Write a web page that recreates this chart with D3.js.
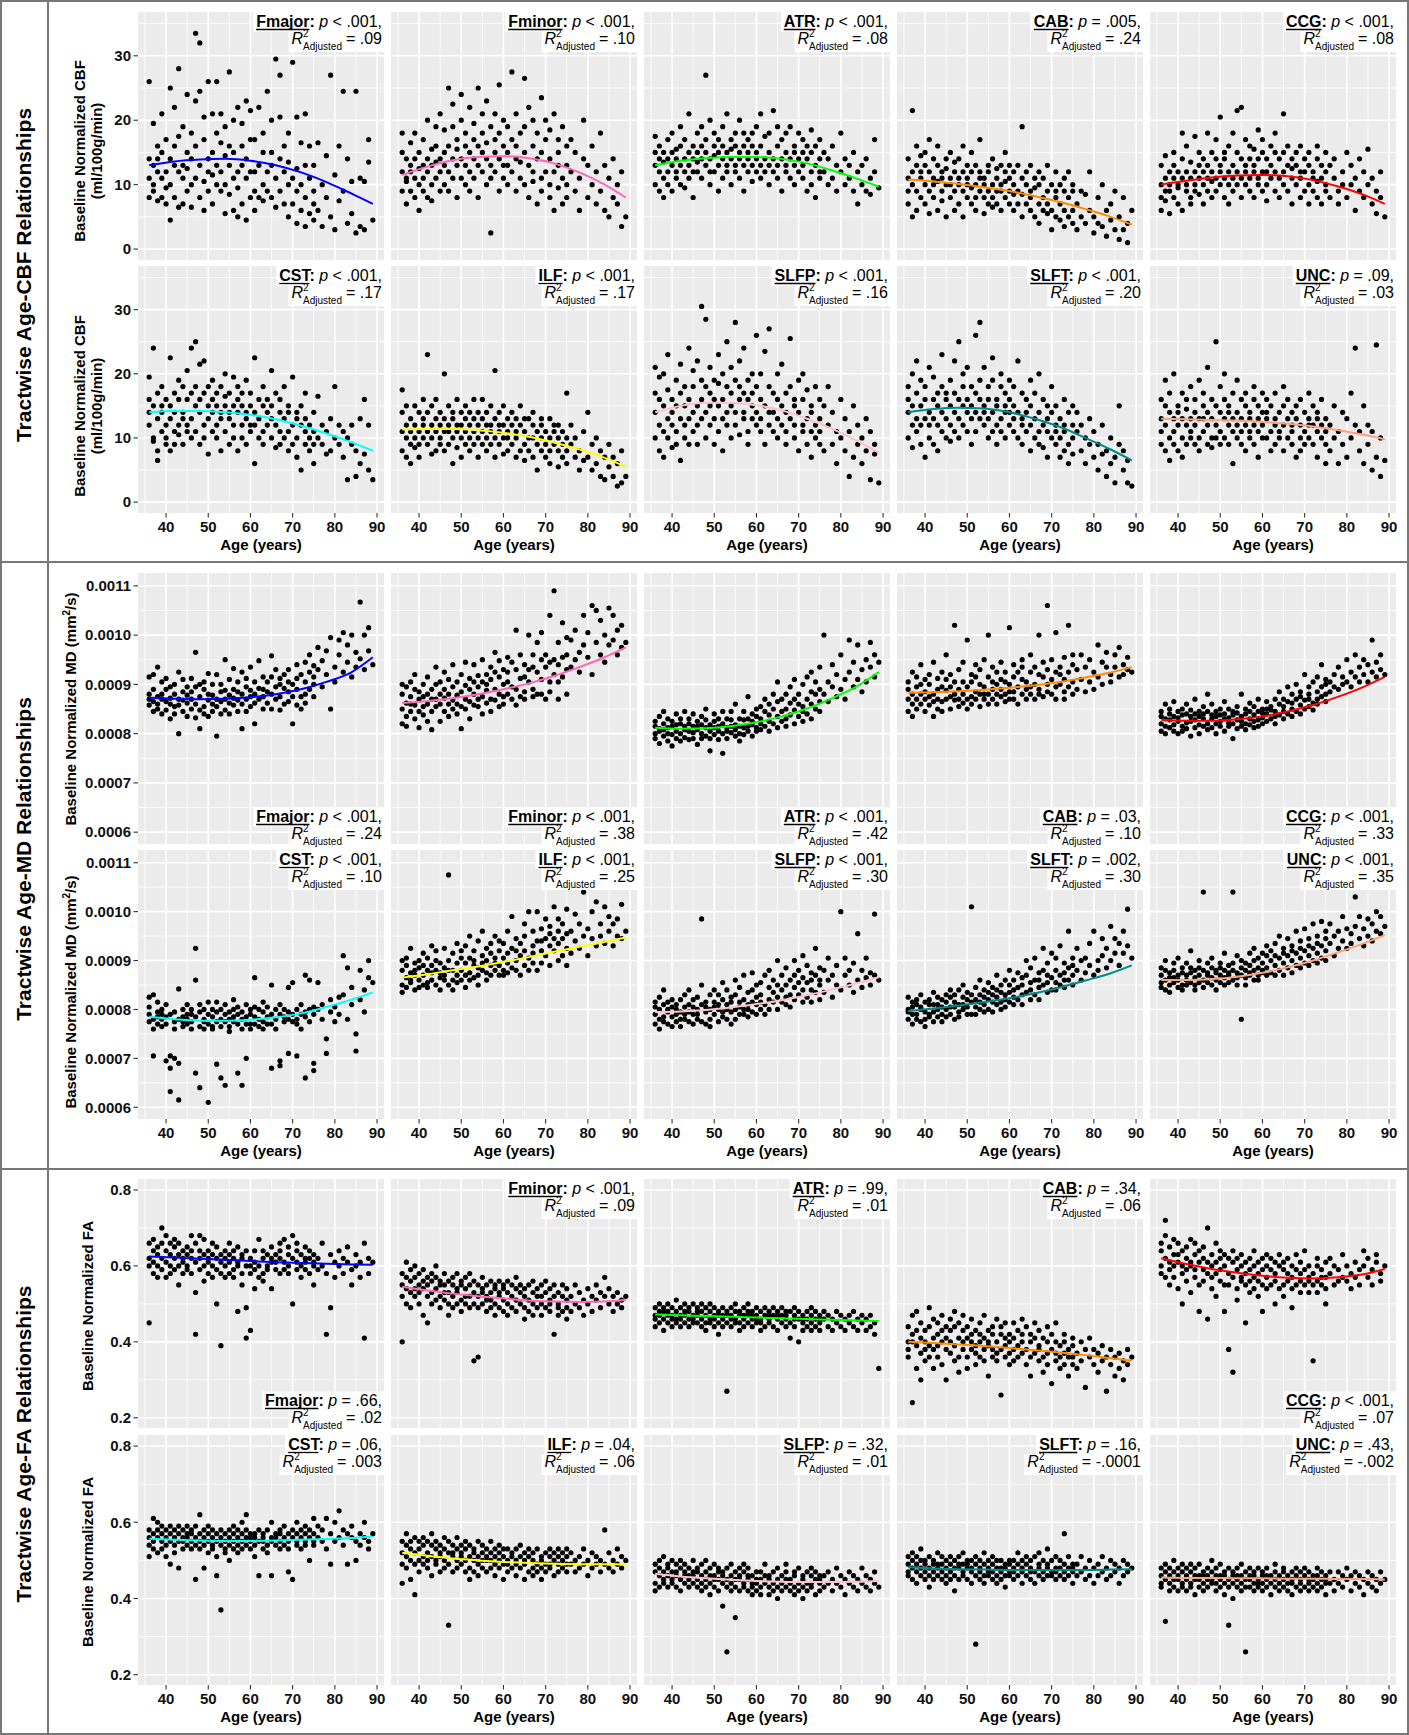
<!DOCTYPE html>
<html><head><meta charset="utf-8">
<script src="https://cdn.jsdelivr.net/npm/d3@7"></script>
<style>body{margin:0;background:#fff}svg{display:block}text{font-family:"Liberation Sans",Arial,Helvetica,sans-serif}</style>
</head><body><svg id="c" width="1409" height="1735"></svg>
<script>
// ---------- DATA ----------
const ages = [36,36,36,36,37,37,37,37,38,38,38,38,39,39,39,39,40,40,40,40,41,41,41,41,42,42,42,42,43,43,43,43,44,44,44,44,45,45,45,45,
46,46,46,46,47,47,47,47,48,48,48,48,49,49,49,49,50,50,50,50,51,51,51,51,52,52,52,52,53,53,53,53,54,54,54,54,55,55,55,55,56,56,56,56,57,57,57,57,58,58,58,58,59,59,59,59,60,60,60,60,
61,61,61,61,62,62,62,63,63,63,63,64,64,64,65,65,65,65,66,66,66,67,67,67,67,68,68,68,69,69,69,69,70,70,70,71,71,71,71,72,72,72,73,73,73,73,74,74,74,75,75,75,75,
76,76,77,77,78,78,79,79,80,80,81,81,82,82,83,83,84,84,85,85,86,86,87,87,88,88,89];

const tracts = ["Fmajor","Fminor","ATR","CAB","CCG","CST","ILF","SLFP","SLFT","UNC"];
const curveColors = ["#0000FF","#FF69B4","#00FF00","#FF8C00","#FF0000","#00FFFF","#FFFF00","#FFC0CB","#008B8B","#FFA07A"];
const xTicks = [40,50,60,70,80,90];
const xMinor = [35,45,55,65,75,85];

// CBF (ml/100g/min)
const cbf_Fmajor=[26,11,8,14,19.5,13,9,10,16,7.5,12,14,21,8,15,11,7,12,17,9.5,25,4.5,14,10,13,22,8,16,28,12,6.5,17.5,11,19,13,7,15,9,24,12.5,
18,10,14,6.5,33.5,16,11,23,32,13,8,24.5,17,10.5,20.5,6,26,14,9,12,7,15,21,11.5,26,18,10,13,12,16.5,9,21,14.5,5.5,19,10,27.5,13,8.5,16,11,20,6,15,22,12,5,9.5,13,19.5,7,16,23,11,14,4.5,12,17,8,21.5,
17,9,12,6,22,13,8,10,15,7.5,18,24.5,12,9,20,8,13,15,29.5,11,6.5,14,27,9,20.5,12,7,16,10,13.5,5,18,29,11,7,20.5,9,12.5,4,6,16.5,10,21,3.5,8,13,11,5.5,16,9,13,4.5,7,
16.5,6,10,3.5,8,14.5,27,5,11.5,3,16,7.5,24.5,9,14,4,10.5,5.5,24.5,2.5,11,3.5,10.5,3,17,13.5,4.5];
const cbf_Fminor=[9,12,15,18,11,7,14,10.5,13,16.5,9,12,8,14,11,18,10,12.5,6,15,17,9,13,11,14,20,8,12,10,15.5,13,7.5,16,11,19,13.5,12,21,9,14,
15,10,18.5,13,25,12,16,9,14,19,11,22.5,13,17,8,15.5,20,11,14,24,10,16,13,18,22,12,15,9,14,19.5,11,17,25,13,8,16,12,18,15,21,10,14,23,16.5,2.5,13,19,11,17,21,12,15,9,14,18,25.5,13,16,11,20,
15,10,19,13,27.5,12,17,14,9,21,16,11,18,13.5,26.5,15,10,19,13,22,8,16,12,20,10.5,14,18,7,11,23.5,15,9,17,12,20,14,10,8,18.5,21,12,6,15,9.5,13,17,11,19,7,13,8,16,10,
12,17,9,15,11,6,14,20,8,13,10,16,7,12,18,9,6,13,11,5,14,8,7,10,3.5,12,5];
const cbf_ATR=[13,10,15,17.5,12,14,9,16,11,13.5,15,8,14,17,12,10,18,13,9,15,12,15.5,14,11,16,10,13,19,14,12,17,9.5,21,13,15,11,12,16,14,8,
15,18,12,13.5,14,11,19,16,27,13,15,17,12,20,14,10,16,14.5,18,12,13,17,9,15,19,14,11,16,15,21,13,12,17,14,10,15.5,13,18,16,12,20,14,15,11,16,13,18,9,14,17,12,15,18,13,16,10.5,15,12,19,14,
13,16,11,21,14,17.5,12,15,10,18,13,21.5,14,12,16,13,19,11,14,17,9,12,15,18,13,19,11,14,16,13,10,15,18,12,14,11,15,13,17,14,9,16,12,18.5,15,10,13,16,8,14,11,17,12,
12,15,10,14,16,11,13,9,18,12,10,14,11,13,15,9,12,7,10,13,14,9,11,8.5,17,12,9.5];
const cbf_CAB=[11,7,14,9,21.5,12,5,10,9,13,16,6,11,8,14.5,12,15,10,7,13,9,12,17,5.5,11,8,14,10,13,6,10.5,16,9,12,7.5,11,14,10,5,12.5,
8,11,15,10,12,9,6,13.5,10,14,7,11,16,9,12,5,11,8,13,10,7,12,9.5,15,10,6,13,8,12,9,17,11,8,11,5.5,10,13,9,7,12,10,14,8,6.5,11,7,12.5,9,9,13,10,6,12,8,10.5,15,7,11,9,13,
10,6,12,8.5,9,13,7,11,5,8.5,19,10,7,12,6,9,13,8,11,5,9.5,7,10,4,12,8,11,6,9,5.5,13,7,10,6,3,12,8,5,9,7,10,4.5,9,6,11,3.5,8,5,12,6,9,4,10,
7,3,9,5,4,8.5,12,6,5,2.5,8,4,10,3.5,6,2,7,4.5,3,9,5,1.5,8,3,4,1,6];
const cbf_CCG=[10,8,13,6,11,9,14.5,7.5,12,5.5,10,9,8,13,11,15,10,7,12,9.5,14,11,6,18,9,12,10,16,11,8,13.5,7,17.5,10,12,9,13,11,8.5,15,
10,14,7,12,18,11,9,13,12,8,15,10.5,14,11,17,9,10,13,20.5,12,8,15,11,14,16,10,12,7,13,9,18,11,12,15,21.5,10,22,11,14,8,13,17,10,12,9,14,11,16,12,15.5,8,13,11,18.5,14,10,15,9,12,17,
10,14,12,7.5,13,11,16,9,15,12,18,11,14,8,21,12,10,15,13,9,16,11,14,7,12.5,15,10,13,8,12,16,11,14,9,12,10,13,7,15,12,9,11,14,8,10.5,16,11,13,7,9,12,15,10,
13,8,11,14,9,7,12,10,15,8,10,13,6,11,9,14,12,8,10,15.5,7,11,9,5.5,12,8,5];
const cbf_CST=[19.5,14,12,16,24,10,15,9.5,8,13,17,6.5,15,11,18,14,12,16,9,10,22.5,13,8,15,17,11,14,9,19,12,16,10.5,14,18,9,13,16,11,20.5,12,
24,13,17,10,25,15,11,18,14,21.5,9,16,22,12,17,10,13,7.5,15,18,16,11,14,19,10,15,12,17,14,18,8,13,20,11,15,16.5,13,9,17,14,19.5,12,15,10,16,8,14,18,12,17,10,15,14,19,9,13,17,11,15,12,
22.5,14,6,12,13,16,10,11,15,18,9,14,12,16,20.5,10,13,15,12,17,8.5,14,11,16,9,13,18,10,8,15,11,14,19.5,12,9,10,14,7,13,5,12,15,11,9,13,17,8,12,10,14,9,6,11,
16.5,10,9,12,11,7.5,13,8,18,10,9,12,7,11,3.5,10,9,12,4,8,13,6,16,7.5,12,5,3.5];
const cbf_ILF=[11,8,14,17.5,10,12,7,15,13,9,11,6,15,10,12,8.5,11,14,7,9,12,16,10,13,23,9,11,14,10,12,7.5,15,13,8,11,16,9,12,14,10,
20,11,8,13,12,15,9,11,10,13,6,14,11,8.5,16,12,14,10,12,7,9,13,11,15,12,8,14,10,16,11,9,13,10,12,14,7,13,9,11,16,8,12,10,14,11,15,9,12,13,7,10,20.5,9,12,14,11,12,10,7.5,15,
11,13,8,10,9,12,14,10,7,13,11,12,8,15,9,11,6.5,13,10,13,8,12,7,10,14,9,11,5,10,13,8,12,7,11,9,13,6,10,8,11,9,12,8,10,5.5,12,9,7,11,17,8,10,6,
9,12,7,10,8,5,11,6.5,14,7,9,5,6,10,8,4,7,3.5,9,5.5,4,7,6,2.5,8,3,4];
const cbf_SLFP=[14,21,10,17,8,16,12,19.5,15,11,20,7,13,17.5,10,23,16,12,8.5,14,19,11,15,9,21.5,13,17,6.5,12,15,10,18,16,24,13,9,11,18,14,20.5,
15,22,12,9,30.5,16,13,19,28.5,14,18,10,17,12,21,15,13,19,9,16,23,15,11,18.5,16,20,13,8,14,18,25,12,17,10,21,15,28,14,19,12,16,22,10.5,18,13,17,14,24,19,11,16,9,15,20,13,17,12,18,26,14,
16,11,20,13,23.5,15,9,14,18,12,27,17,11,14,13,20,16,10,21.5,15,12,14,9,17,11,25.5,13,18,12,16,10,15,19,14,8,16,12,20,11,13,17.5,9,11,15,7,14,18,12,10,13,9,16,11,
15,8,12,18,9,14,11,6,16,10,8,13,11,4,7,15,12,9,6,10,13,8,3.5,11,9,7.5,3];
const cbf_SLFT=[14,18,10,16,20,12,15,8.5,11,17,13,22,15,9,19,12,13,16,7,18,21,12,14,10,16,13,9,19.5,12,17,15,8,18,11,14,23,13,16,10,17,
19,12,15,9.5,14,22,11,17,16,13,25,10,20,15,12,18,11,16,14,21,15,9,18,13,26,14,17,11,28,13,16,19,15,21,12,14,18,10,16,13,14,19,11,22.5,16,12,15,9,13,18,20,11,17,14,10,15,12,19,16,14,
15,11,18,13,22,14,10,13,17,12,9,16,11,14,19,12,15,8,13,17,10,14,20,11,9,16,12,8.5,11,15,13,7,18,10,14,12,9,15,11,13,7,10,16,11,8,12,9,14,6,12,10,15,7.5,
11,14,8,12,10,6,13,9,7,11,9,5,12,7.5,8,4,10,6,7,3,15,9,5,8,3,6.5,2.5];
const cbf_UNC=[13,9,16,11,8,15,12,19,14,10,17,6.5,11,13,20,9,15,12,8,14,10,17,13,7,12,16,9,14.5,18,11,13,10,9,14,16,12,13,10,19,8,
15,11,13,17,21,12,9,14,10,16,13,8.5,25,12,15,10,14,11,18,9,13,16,10,20,12,9,15,14,17,11,13,6,10,14,19,12,13,16,9,11,15,12,17,8,11,14,10,13,16,9,12,18,13,15,11,7,12,17,14,10,
14,10,13,16,11,15,8,13,9,17,12,10,14,11,18,12,8,15,13,10,16,11,14,9,12,15,7,13,10,12,16,8,14,11,9,12,17,10,13,9,12,15,11,14,7,13,16,10,12,9,13,11,6,
12,8,15,10,11,6,9,14,13,7,10,17,24,12,8,11,15,6,12,9,5,11,24.5,7,10,4,6.5];

// MD (units of 1e-6 mm^2/s)
const md_Fmajor=[858,915,880,870,845,890,865,920,935,860,875,850,880,905,840,870,865,890,848,912,872,830,895,860,855,880,900,840,800,870,925,858,885,845,910,868,862,895,835,878,
870,912,850,885,965,860,832,895,875,810,900,848,890,855,905,840,868,922,880,835,845,878,860,900,795,870,920,855,885,840,900,865,870,950,848,888,862,910,840,878,932,858,890,872,845,905,868,885,810,880,860,925,870,895,845,912,888,855,875,935,
820,880,905,862,948,870,892,875,915,850,890,905,862,885,958,880,850,915,895,930,870,875,912,848,900,920,860,892,885,930,865,905,820,900,875,912,858,940,890,875,920,850,905,945,880,862,925,890,960,875,915,900,938,
930,975,895,948,968,920,850,995,935,905,990,960,1005,925,945,980,915,1000,965,935,1067,952,930,1000,968,1015,940];
const md_Fminor=[850,880,820,900,862,835,895,815,875,845,905,860,830,890,858,920,870,812,885,845,855,900,838,875,880,825,915,860,845,890,870,808,900,855,935,870,825,880,860,905,
872,925,845,890,860,910,835,880,895,850,940,868,840,905,878,860,885,920,855,810,870,945,898,850,912,865,830,890,880,940,858,905,855,895,918,870,905,875,950,840,862,920,888,900,935,870,845,910,890,965,868,925,915,855,880,948,875,930,900,860,
905,880,955,925,870,945,895,930,890,1010,858,912,875,960,885,940,915,870,1000,905,930,890,960,875,935,925,880,985,910,950,880,1005,870,935,960,1040,905,945,885,1090,920,950,985,905,940,870,955,1025,915,930,880,995,960,
935,990,1010,950,965,925,1040,980,955,1005,920,1060,985,1050,1030,960,1000,945,1055,980,1040,990,960,1010,1020,975,985];
const md_ATR=[800,825,790,815,810,835,780,805,795,820,845,808,812,785,830,800,825,798,815,775,805,840,790,818,820,800,830,785,792,815,845,808,830,805,788,820,815,790,840,802,
808,825,778,815,835,800,818,790,812,850,795,828,790,818,805,765,825,798,840,812,805,830,788,815,760,820,845,800,812,790,830,805,828,802,815,845,795,860,818,808,830,800,815,785,812,845,798,828,875,805,830,815,818,795,840,825,805,835,812,850,
830,808,855,820,845,815,870,825,860,805,838,850,820,880,835,865,812,905,845,825,870,815,880,850,830,862,838,895,848,820,870,910,835,860,880,825,900,855,845,870,840,915,860,830,885,925,880,850,905,865,935,890,845,
880,1000,865,905,895,940,875,920,960,890,910,870,990,925,895,945,980,910,930,885,950,905,985,935,915,960,945];
const md_CAB=[870,905,845,890,925,860,880,835,895,850,915,870,860,900,880,940,845,885,910,870,900,858,875,920,880,835,945,865,912,870,890,850,865,925,845,895,888,960,870,910,
875,920,850,895,1020,868,905,880,890,855,930,870,905,880,862,945,870,990,895,850,920,875,905,860,885,940,870,915,855,900,880,930,895,870,950,880,880,915,860,1000,905,870,935,890,860,900,880,925,945,875,910,890,880,925,865,905,900,870,1015,885,
915,885,940,870,895,925,860,910,880,950,935,870,905,890,925,895,960,880,900,935,870,890,920,1000,880,915,945,875,1060,900,930,885,910,880,950,895,925,870,1005,935,900,920,885,955,910,870,925,895,1020,905,940,880,960,
930,890,910,960,885,935,950,905,925,890,980,915,900,945,935,965,905,920,960,935,915,975,940,920,955,930,925];
const md_CCG=[820,845,805,835,830,800,860,815,840,812,828,850,805,835,818,865,825,845,800,832,850,815,838,805,822,860,810,840,835,795,848,825,812,840,828,870,845,818,835,800,
830,855,815,840,880,820,845,808,838,812,830,860,820,845,800,835,850,825,815,838,805,840,830,865,832,815,850,822,845,790,838,820,828,855,810,842,815,835,880,825,840,820,850,808,830,862,818,845,812,838,825,855,845,828,870,815,832,850,820,842,
840,825,865,850,855,830,848,835,870,845,820,860,838,885,845,870,830,855,865,840,895,850,880,835,862,870,845,900,858,885,840,875,868,850,920,880,855,895,870,862,905,848,885,870,915,860,895,875,940,880,910,865,900,
905,885,920,895,890,935,915,900,950,905,925,895,915,960,935,905,920,950,905,940,925,990,945,915,930,960,920];
const md_CST=[790,825,775,805,705,830,780,760,795,770,815,785,780,800,765,790,695,785,810,770,632,680,705,790,700,775,795,760,615,690,780,842,785,765,800,775,790,810,770,780,
775,800,760,790,925,670,860,785,640,795,765,810,780,760,800,775,610,790,815,770,785,765,800,760,688,795,775,815,660,780,800,765,645,790,810,775,780,765,795,755,800,775,820,785,670,790,770,805,645,780,760,795,700,785,810,770,790,770,800,760,
865,785,770,805,780,800,765,795,775,815,760,785,805,770,680,850,790,770,800,780,760,695,685,790,810,775,800,785,710,845,780,795,855,775,790,705,800,780,770,790,810,760,660,870,785,795,775,860,800,690,675,790,805,
800,855,780,810,710,740,795,820,805,775,825,790,910,830,885,780,810,845,715,750,820,880,795,840,900,865,855];
const md_ILF=[880,850,835,900,865,890,845,905,875,925,855,860,840,895,870,880,860,900,845,885,890,850,915,870,855,880,905,845,875,930,860,890,900,850,880,920,865,895,840,875,
885,860,925,870,1075,880,900,850,860,915,880,840,895,870,935,855,880,905,860,920,870,895,845,930,905,875,950,860,890,920,865,900,870,940,885,850,910,880,960,895,875,925,900,860,935,890,870,915,895,950,880,905,870,920,890,940,905,880,935,870,
895,960,875,915,925,885,990,900,945,880,920,870,935,910,950,890,920,975,905,1000,880,930,895,960,915,880,940,1000,920,965,895,940,985,910,945,930,890,970,955,1010,920,945,900,960,935,985,945,910,975,925,1005,955,890,
960,915,995,940,925,975,1040,950,965,910,1000,945,930,1020,975,950,1010,935,960,990,930,975,985,950,1015,945,960];
const md_SLFP=[790,815,770,805,780,800,825,760,810,785,840,775,795,770,815,800,785,820,765,805,800,775,810,790,820,780,795,765,805,790,830,780,775,810,795,840,790,770,805,820,
800,780,825,790,985,810,775,850,795,815,770,805,780,830,800,765,815,790,805,840,800,775,830,810,785,820,795,855,810,780,840,800,795,825,770,815,830,800,780,860,805,845,790,815,820,790,870,800,800,835,810,785,840,815,795,875,810,850,790,825,
830,800,855,815,810,870,790,845,820,800,880,815,860,835,800,850,825,900,840,815,870,825,885,810,850,860,830,805,845,900,820,870,830,880,855,815,865,840,910,855,825,890,840,875,815,860,870,835,925,850,885,820,860,
835,880,860,905,825,870,890,850,840,1000,870,905,850,880,895,835,860,955,845,880,905,865,875,850,995,870,860];
const md_SLFT=[800,780,825,795,815,770,805,790,790,820,780,810,805,775,830,800,780,815,795,765,820,790,810,785,795,835,775,810,810,785,825,800,790,820,805,775,830,800,785,815,
805,825,790,840,815,780,830,805,795,840,810,785,825,800,850,810,790,820,805,835,1010,815,790,830,805,845,820,790,830,800,815,860,810,840,795,825,820,800,855,835,795,830,815,845,840,810,825,870,815,850,800,835,830,805,860,820,850,815,835,880,
825,860,810,840,845,820,875,830,865,810,850,870,835,900,820,855,840,885,860,830,905,845,875,820,860,880,850,925,835,870,895,855,865,840,915,880,855,905,840,870,930,850,860,895,875,845,885,860,960,870,905,850,890,
880,925,860,900,905,875,935,890,870,960,900,880,945,910,885,925,970,900,915,945,890,935,960,915,1005,930,905];
const md_UNC=[870,845,885,855,860,880,840,900,850,875,865,835,880,855,895,865,845,870,860,905,875,850,885,840,860,895,870,850,885,855,875,920,850,880,865,840,870,900,855,885,
860,880,845,1040,875,855,895,870,850,885,865,905,880,860,840,875,870,895,855,885,865,850,880,915,890,870,855,875,860,1040,880,895,875,850,865,910,780,885,870,900,865,895,880,850,890,870,915,875,880,860,900,925,870,905,885,860,895,875,915,880,
885,910,870,930,900,875,920,890,935,870,910,905,880,950,895,925,870,915,910,885,945,900,930,875,920,915,890,960,905,940,885,925,920,895,965,910,945,890,930,925,900,975,915,950,895,935,930,905,980,920,960,900,945,
935,975,910,950,960,925,940,990,925,965,955,935,1030,970,945,990,965,930,985,950,940,975,960,1000,990,955,970];

// FA
const fa_Fmajor=[.45,.62,.66,.60,.64,.58,.67,.61,.63,.57,.65,.60,.70,.62,.59,.66,.61,.64,.57,.68,.63,.60,.66,.58,.62,.65,.59,.67,.60,.63,.55,.66,.64,.61,.58,.62,.63,.60,.65,.59,
.68,.62,.58,.64,.53,.42,.66,.61,.62,.68,.59,.64,.63,.56,.67,.60,.61,.64,.58,.62,.57,.63,.60,.66,.50,.62,.59,.65,.39,.61,.63,.58,.64,.60,.57,.62,.58,.63,.61,.66,.62,.59,.64,.57,.48,.61,.60,.65,.63,.58,.62,.55,.49,.41,.60,.64,.43,.62,.58,.60,
.61,.54,.64,.59,.67,.60,.57,.62,.58,.64,.56,.60,.63,.59,.65,.61,.54,.62,.59,.63,.61,.64,.58,.62,.66,.61,.67,.59,.63,.60,.65,.58,.50,.68,.62,.64,.59,.61,.66,.60,.63,.57,.62,.65,.59,.61,.58,.62,.64,.60,.55,.63,.61,
.62,.59,.66,.60,.42,.58,.49,.63,.61,.57,.64,.60,.62,.58,.65,.61,.59,.55,.60,.63,.57,.61,.41,.66,.62,.58,.61];
const fa_Fminor=[.40,.55,.58,.52,.61,.54,.50,.57,.53,.59,.49,.56,.57,.52,.60,.54,.55,.50,.58,.53,.56,.47,.54,.59,.52,.57,.45,.55,.58,.53,.50,.56,.54,.60,.51,.57,.52,.56,.49,.55,
.55,.51,.58,.53,.50,.56,.53,.47,.57,.52,.55,.49,.53,.58,.50,.54,.51,.55,.48,.56,.54,.50,.57,.52,.49,.55,.52,.58,.35,.53,.50,.56,.36,.52,.55,.49,.54,.50,.53,.57,.51,.48,.55,.52,.53,.56,.49,.51,.50,.54,.47,.55,.52,.49,.56,.53,.55,.51,.48,.54,
.50,.53,.56,.47,.52,.49,.55,.51,.54,.48,.57,.53,.50,.55,.49,.52,.46,.54,.51,.55,.48,.53,.50,.56,.47,.52,.49,.54,.50,.55,.47,.52,.53,.49,.56,.51,.54,.48,.50,.42,.52,.55,.50,.47,.53,.49,.52,.55,.48,.51,.49,.54,.46,
.52,.48,.55,.50,.49,.53,.51,.47,.54,.50,.52,.48,.55,.51,.49,.53,.52,.57,.50,.54,.48,.52,.53,.50,.51,.49,.52];
const fa_ATR=[.47,.44,.49,.46,.48,.45,.50,.47,.46,.49,.43,.48,.47,.50,.45,.48,.49,.46,.44,.47,.45,.48,.51,.46,.47,.44,.49,.46,.48,.45,.50,.47,.46,.49,.44,.48,.47,.50,.45,.46,
.48,.45,.47,.49,.46,.44,.48,.50,.47,.49,.45,.43,.48,.46,.50,.45,.47,.44,.49,.46,.45,.48,.47,.42,.49,.46,.44,.47,.27,.48,.45,.47,.46,.49,.44,.47,.48,.45,.50,.46,.47,.43,.48,.45,.46,.49,.44,.47,.48,.45,.47,.50,.46,.48,.44,.47,.47,.45,.49,.46,
.48,.45,.46,.43,.47,.44,.49,.46,.48,.45,.47,.44,.47,.49,.46,.48,.43,.47,.45,.47,.49,.46,.44,.48,.47,.45,.48,.41,.47,.44,.46,.49,.40,.46,.48,.45,.47,.43,.46,.48,.44,.46,.47,.45,.49,.43,.46,.48,.44,.45,.47,.43,.46,
.46,.48,.44,.47,.46,.43,.48,.45,.44,.47,.46,.43,.47,.45,.44,.48,.46,.43,.45,.47,.43,.46,.47,.44,.45,.42,.33];
const fa_CAB=[.40,.36,.44,.38,.42,.47,.24,.40,.48,.39,.33,.43,.37,.41,.45,.30,.40,.35,.43,.38,.44,.39,.49,.36,.41,.33,.46,.38,.36,.42,.39,.45,.40,.47,.34,.43,.38,.44,.30,.41,
.43,.37,.40,.46,.39,.44,.35,.48,.41,.36,.45,.32,.38,.43,.40,.47,.36,.41,.44,.33,.42,.38,.46,.40,.37,.43,.34,.39,.45,.40,.36,.42,.38,.47,.41,.35,.43,.39,.31,.40,.36,.44,.38,.42,.40,.35,.46,.37,.42,.38,.44,.26,.39,.45,.36,.41,.37,.42,.40,.34,
.41,.38,.45,.35,.39,.43,.36,.42,.37,.40,.46,.38,.44,.34,.40,.36,.42,.31,.37,.41,.45,.39,.35,.43,.38,.36,.41,.32,.40,.37,.44,.34,.38,.29,.42,.35,.40,.37,.45,.39,.33,.36,.37,.42,.34,.40,.36,.38,.31,.39,.34,.41,.36,
.37,.33,.40,.35,.38,.28,.36,.41,.34,.38,.37,.32,.35,.39,.27,.36,.34,.38,.36,.31,.33,.37,.35,.30,.34,.38,.36];
const fa_CCG=[.64,.60,.66,.58,.72,.62,.57,.68,.59,.65,.61,.55,.63,.57,.67,.60,.61,.66,.54,.63,.58,.64,.60,.50,.62,.56,.65,.59,.60,.67,.53,.61,.57,.63,.59,.66,.61,.55,.64,.48,
.59,.65,.56,.62,.70,.58,.61,.46,.63,.57,.60,.54,.58,.66,.52,.61,.62,.56,.59,.64,.55,.60,.48,.63,.38,.58,.62,.55,.32,.61,.57,.64,.59,.54,.62,.51,.57,.63,.56,.60,.61,.55,.58,.45,.56,.62,.53,.59,.60,.57,.64,.54,.58,.52,.61,.56,.62,.55,.59,.48,
.57,.63,.54,.60,.59,.55,.62,.56,.61,.50,.58,.60,.54,.63,.55,.59,.52,.61,.58,.56,.62,.54,.60,.57,.49,.59,.55,.63,.56,.61,.53,.58,.64,.55,.59,.57,.53,.60,.56,.35,.58,.55,.60,.56,.62,.53,.57,.59,.55,.54,.61,.57,.50,
.58,.62,.55,.60,.59,.56,.63,.57,.56,.60,.58,.54,.61,.57,.55,.59,.60,.64,.57,.62,.59,.55,.61,.63,.58,.56,.60];
const fa_CST=[.56,.54,.58,.51,.57,.55,.61,.53,.58,.52,.56,.60,.55,.57,.53,.59,.56,.58,.51,.54,.57,.55,.49,.59,.54,.56,.58,.52,.55,.57,.48,.59,.56,.53,.58,.55,.57,.54,.56,.59,
.55,.57,.53,.58,.45,.56,.59,.54,.62,.55,.57,.53,.56,.48,.58,.54,.57,.55,.52,.59,.54,.56,.58,.53,.46,.57,.55,.51,.37,.56,.54,.58,.55,.53,.57,.52,.56,.58,.54,.50,.53,.57,.55,.59,.56,.54,.58,.52,.55,.57,.53,.60,.62,.56,.54,.58,.55,.57,.53,.56,
.54,.57,.51,.56,.46,.55,.58,.56,.53,.57,.55,.54,.58,.52,.46,.56,.55,.60,.57,.54,.56,.55,.58,.53,.57,.56,.54,.59,.47,.57,.55,.53,.45,.58,.56,.57,.55,.60,.54,.56,.53,.58,.55,.59,.57,.54,.50,.56,.58,.57,.54,.61,.55,
.56,.59,.55,.58,.61,.53,.57,.49,.55,.60,.63,.56,.54,.58,.49,.57,.56,.59,.50,.55,.57,.54,.60,.56,.55,.53,.57];
const fa_ILF=[.52,.49,.55,.44,.54,.51,.57,.48,.50,.53,.45,.55,.56,.52,.49,.41,.53,.50,.55,.47,.51,.54,.49,.56,.52,.48,.55,.50,.54,.51,.57,.46,.50,.53,.49,.55,.52,.47,.54,.51,
.53,.50,.56,.48,.33,.52,.55,.49,.51,.54,.47,.52,.50,.53,.56,.48,.52,.49,.54,.51,.47,.53,.50,.55,.51,.48,.54,.45,.50,.53,.47,.52,.49,.55,.51,.46,.52,.48,.54,.50,.50,.53,.47,.51,.48,.52,.55,.50,.51,.46,.53,.49,.50,.54,.48,.52,.49,.51,.45,.53,
.50,.47,.53,.49,.52,.48,.51,.46,.50,.53,.49,.51,.48,.54,.49,.52,.45,.50,.47,.51,.53,.50,.46,.52,.48,.49,.53,.47,.51,.48,.50,.45,.52,.49,.47,.48,.51,.53,.49,.50,.46,.52,.49,.51,.47,.53,.48,.50,.52,.51,.47,.49,.53,
.49,.52,.47,.50,.51,.48,.53,.49,.50,.46,.48,.52,.51,.49,.47,.50,.58,.49,.52,.48,.50,.47,.49,.53,.51,.48,.50];
const fa_SLFP=[.47,.44,.49,.42,.46,.48,.43,.50,.45,.47,.51,.44,.48,.43,.46,.49,.44,.47,.50,.45,.46,.49,.43,.47,.48,.45,.42,.50,.44,.47,.49,.46,.46,.43,.48,.45,.47,.50,.44,.46,
.45,.48,.43,.47,.46,.44,.49,.42,.47,.45,.50,.43,.44,.48,.46,.41,.46,.43,.49,.45,.48,.45,.42,.47,.44,.47,.38,.46,.26,.45,.48,.43,.46,.44,.49,.42,.35,.47,.45,.43,.45,.48,.42,.46,.44,.47,.43,.49,.46,.42,.45,.48,.43,.46,.44,.41,.47,.45,.42,.44,
.45,.43,.47,.41,.44,.46,.49,.43,.46,.41,.45,.47,.44,.42,.45,.48,.43,.40,.44,.46,.42,.47,.43,.45,.49,.42,.45,.44,.46,.43,.47,.41,.44,.48,.42,.45,.43,.46,.40,.47,.44,.42,.43,.46,.44,.48,.45,.41,.47,.44,.46,.42,.45,
.46,.43,.44,.47,.42,.45,.48,.44,.43,.46,.45,.41,.47,.44,.43,.46,.45,.42,.48,.44,.43,.46,.45,.42,.47,.44,.43];
const fa_SLFT=[.49,.46,.51,.47,.48,.52,.45,.50,.47,.49,.44,.51,.50,.46,.48,.53,.47,.50,.45,.49,.48,.51,.46,.43,.50,.47,.49,.45,.46,.49,.52,.48,.49,.45,.47,.51,.48,.50,.46,.44,
.47,.49,.51,.45,.50,.46,.48,.42,.48,.51,.45,.49,.46,.49,.47,.52,.49,.45,.48,.50,.47,.50,.44,.48,.28,.49,.46,.51,.48,.45,.50,.47,.46,.49,.52,.44,.48,.46,.50,.47,.45,.49,.47,.51,.48,.44,.50,.46,.47,.50,.45,.48,.49,.46,.48,.43,.46,.50,.47,.49,
.48,.45,.50,.47,.46,.49,.52,.47,.44,.50,.48,.49,.46,.51,.45,.48,.47,.50,.47,.51,.44,.49,.46,.48,.52,.47,.50,.45,.48,.46,.53,.49,.46,.50,.47,.48,.45,.51,.47,.50,.46,.48,.57,.47,.49,.45,.48,.51,.46,.47,.49,.44,.48,
.49,.46,.47,.51,.45,.48,.50,.46,.48,.44,.46,.49,.51,.47,.48,.45,.46,.50,.49,.47,.44,.48,.50,.46,.47,.49,.48];
const fa_UNC=[.46,.43,.48,.44,.34,.47,.45,.49,.44,.46,.42,.48,.47,.43,.45,.50,.45,.48,.42,.46,.43,.47,.49,.44,.46,.42,.48,.45,.44,.47,.43,.49,.48,.45,.41,.46,.43,.46,.49,.45,
.47,.44,.46,.42,.45,.48,.43,.46,.44,.47,.50,.45,.46,.42,.48,.44,.43,.46,.45,.49,.47,.44,.41,.46,.33,.45,.48,.43,.46,.44,.47,.40,.45,.48,.43,.46,.44,.46,.49,.42,.26,.45,.47,.43,.46,.43,.48,.45,.44,.47,.42,.46,.45,.43,.48,.44,.47,.44,.46,.42,
.45,.48,.43,.46,.44,.46,.41,.47,.43,.45,.49,.44,.46,.42,.45,.48,.43,.47,.46,.42,.44,.44,.47,.45,.41,.46,.43,.48,.45,.42,.47,.44,.43,.46,.48,.45,.44,.47,.42,.46,.43,.45,.44,.48,.42,.46,.45,.43,.47,.46,.44,.41,.45,
.44,.47,.45,.42,.47,.44,.43,.46,.45,.48,.42,.46,.44,.47,.46,.43,.45,.41,.47,.44,.43,.46,.45,.42,.44,.47,.45];

// fitted curves, read at these ages
const curveAges = [36,42,48,54,60,66,72,78,84,89];
const cbfCurves = [[13.0,13.6,13.9,14.0,13.7,13.0,11.9,10.4,8.6,7.0],[11.5,12.8,13.8,14.3,14.4,14.1,13.3,11.9,10.0,8.0],[13.0,13.7,14.1,14.3,14.3,14.0,13.3,12.2,10.9,9.7],[10.8,10.5,10.1,9.6,9.0,8.2,7.3,6.2,5.0,3.8],[10.0,10.6,11.1,11.4,11.5,11.3,10.7,9.7,8.4,7.0],
 [14.0,14.2,14.2,14.0,13.6,12.9,11.9,10.7,9.3,8.0],[11.3,11.4,11.4,11.2,10.8,10.2,9.3,8.2,6.9,5.5],[14.0,15.0,15.5,15.5,15.1,14.3,13.0,11.4,9.5,7.7],[14.0,14.5,14.7,14.6,14.0,13.0,11.7,10.0,8.2,6.5],[13.0,12.9,12.8,12.7,12.5,12.2,11.8,11.2,10.5,9.8]];
const mdCurves = [[873,871,870,871,874,880,890,905,925,955],[862,866,872,880,890,902,917,935,955,975],[812,810,811,815,823,835,851,872,897,925],[883,884,886,889,893,898,905,914,924,935],[828,826,826,829,835,845,858,875,895,915],
 [785,780,777,777,779,784,792,805,820,835],[865,872,880,888,897,907,918,928,938,947],[795,796,799,804,811,819,829,841,854,866],[797,802,808,815,823,833,845,859,874,890],[860,860,862,867,875,886,900,917,935,952]];
const faCurves = [[.625,.622,.619,.616,.613,.610,.608,.606,.604,.603],[.545,.535,.527,.520,.514,.509,.506,.505,.506,.510],[.472,.470,.468,.466,.464,.462,.460,.458,.456,.455],[.400,.397,.393,.389,.384,.378,.372,.365,.357,.350],[.620,.605,.592,.582,.574,.569,.567,.570,.578,.592],
 [.557,.554,.552,.551,.551,.552,.554,.556,.559,.562],[.520,.512,.505,.500,.496,.493,.491,.490,.490,.490],[.465,.458,.453,.449,.446,.444,.443,.443,.444,.446],[.482,.479,.477,.476,.475,.475,.475,.475,.476,.477],[.455,.454,.454,.453,.453,.452,.452,.451,.451,.450]];

// annotation statistics
const cbfP  = ["< .001","< .001","< .001","= .005","< .001","< .001","< .001","< .001","< .001","= .09"];
const cbfR2 = [".09",".10",".08",".24",".08",".17",".17",".16",".20",".03"];
const mdP   = ["< .001","< .001","< .001","= .03","< .001","< .001","< .001","< .001","= .002","< .001"];
const mdR2  = [".24",".38",".42",".10",".33",".10",".25",".30",".30",".35"];
const faP   = ["= .66","< .001","= .99","= .34","< .001","= .06","= .04","= .32","= .16","= .43"];
const faR2  = [".02",".09",".01",".06",".07",".003",".06",".01","-.0001","-.002"];
const cbfAnnoPos = ["top","top","top","top","top","top","top","top","top","top"];
const mdAnnoPos  = ["bottom","bottom","bottom","bottom","bottom","top","top","top","top","top"];
const faAnnoPos  = ["bottom","top","top","top","bottom","top","top","top","top","top"];

const cbfTicks = [0,10,20,30], cbfTickLabels = ["0","10","20","30"];
const mdTicks = [600,700,800,900,1000,1100], mdTickLabels = ["0.0006","0.0007","0.0008","0.0009","0.0010","0.0011"];
const faTicks = [.2,.4,.6,.8], faTickLabels = ["0.2","0.4","0.6","0.8"];

// ---------- LAYOUT ----------
const svg = d3.select("#c");
const PW = 246, GAP = 7, LEFT0 = 138;
const sections = [
 {title:"Tractwise Age-CBF Relationships", titleY:275, rows:[[12,260],[266,513]], yDomain:[-1.7,36.8], ticks:cbfTicks, tickLabels:cbfTickLabels, minor:[5,15,25,35],
  yTitle:"cbf", yTitleCY:[151,406], data:[cbf_Fmajor,cbf_Fminor,cbf_ATR,cbf_CAB,cbf_CCG,cbf_CST,cbf_ILF,cbf_SLFP,cbf_SLFT,cbf_UNC], curves:cbfCurves, p:cbfP, r2:cbfR2, pos:cbfAnnoPos},
 {title:"Tractwise Age-MD Relationships", titleY:859, rows:[[573,844],[850,1119]], yDomain:[576,1126], ticks:mdTicks, tickLabels:mdTickLabels, minor:[650,750,850,950,1050],
  yTitle:"md", yTitleCY:[709,992], data:[md_Fmajor,md_Fminor,md_ATR,md_CAB,md_CCG,md_CST,md_ILF,md_SLFP,md_SLFT,md_UNC], curves:mdCurves, p:mdP, r2:mdR2, pos:mdAnnoPos},
 {title:"Tractwise Age-FA Relationships", titleY:1444, rows:[[1179,1428],[1435,1685]], yDomain:[.173,.829], ticks:faTicks, tickLabels:faTickLabels, minor:[.3,.5,.7],
  yTitle:"fa", yTitleCY:[1306,1562], data:[fa_Fmajor,fa_Fminor,fa_ATR,fa_CAB,fa_CCG,fa_CST,fa_ILF,fa_SLFP,fa_SLFT,fa_UNC], curves:faCurves, p:faP, r2:faR2, pos:faAnnoPos}
];

// frame
const frame = svg.append("g").attr("stroke","#777").attr("stroke-width",2).attr("fill","none");
frame.append("rect").attr("x",1).attr("y",1).attr("width",1407).attr("height",1733);
frame.append("line").attr("x1",48).attr("x2",48).attr("y1",0).attr("y2",1735);
frame.append("line").attr("x1",0).attr("x2",1409).attr("y1",562).attr("y2",562);
frame.append("line").attr("x1",0).attr("x2",1409).attr("y1",1169).attr("y2",1169);

function addAnno(g, xRight, top, bottom, pos, tract, p, r2) {
  const fs = 16, xr = xRight - 2;
  const b1 = pos === "top" ? top + 15 : bottom - 22;
  const b2 = b1 + 16.5;
  const back = g.append("g");
  const t1 = g.append("text").attr("x", xr).attr("y", b1).attr("text-anchor","end")
    .style("font-size", fs+"px").style("white-space","pre").attr("fill","#000");
  t1.append("tspan").attr("font-weight","bold").text(tract);
  t1.append("tspan").attr("font-weight","bold").text(": ");
  t1.append("tspan").attr("font-style","italic").text("p");
  t1.append("tspan").text(" " + p + ",");
  const n1 = t1.node();
  const len = n1.getComputedTextLength();
  const x0 = xr - len;
  const tl = n1.getSubStringLength(0, tract.length);
  g.append("line").attr("x1", x0).attr("x2", x0 + tl).attr("y1", b1 + 2.5).attr("y2", b1 + 2.5)
    .attr("stroke","#000").attr("stroke-width",1.3);
  const eq = g.append("text").attr("x", xr).attr("y", b2).attr("text-anchor","end")
    .style("font-size", fs+"px").style("white-space","pre").text("= " + r2);
  const eqW = eq.node().getComputedTextLength();
  const adjX = xr - eqW - 4;
  const adj = g.append("text").attr("x", adjX).attr("y", b2 + 6).attr("text-anchor","end").style("font-size","10px").text("Adjusted");
  const rX = adjX - adj.node().getComputedTextLength();
  g.append("text").attr("x", rX).attr("y", b2 - 6.5).style("font-size","10px").text("2");
  const R = g.append("text").attr("x", rX).attr("y", b2).attr("text-anchor","end").style("font-size", fs+"px").attr("font-style","italic").text("R");
  const rW = R.node().getComputedTextLength();
  const r1top = pos === "top" ? top : b1 - 14.5;
  back.append("rect").attr("x", x0 - 3).attr("y", r1top).attr("width", xRight - x0 + 3).attr("height", b1 + 4.5 - r1top).attr("fill","#fff");
  const r2top = b1 + 4.5, r2bot = pos === "top" ? b2 + 8.5 : bottom;
  back.append("rect").attr("x", rX - rW - 3).attr("y", r2top).attr("width", xRight - (rX - rW - 3)).attr("height", r2bot - r2top).attr("fill","#fff");
}

sections.forEach(sec => {
  svg.append("text").attr("transform",`translate(24,${sec.titleY}) rotate(-90)`).attr("dy","0.35em")
    .attr("text-anchor","middle").style("font-size","21px").style("font-weight","bold").attr("fill","#000").text(sec.title);
  sec.rows.forEach((row, ri) => {
    const [top, bottom] = row;
    const y = d3.scaleLinear().domain(sec.yDomain).range([bottom, top]);
    const cy = sec.yTitleCY[ri];
    if (sec.yTitle === "cbf") {
      svg.append("text").attr("transform",`translate(80,${cy}) rotate(-90)`).attr("dy","0.35em").attr("text-anchor","middle")
        .style("font-size","15px").style("font-weight","bold").text("Baseline Normalized CBF");
      svg.append("text").attr("transform",`translate(97,${cy}) rotate(-90)`).attr("dy","0.35em").attr("text-anchor","middle")
        .style("font-size","15px").style("font-weight","bold").text("(ml/100g/min)");
    } else if (sec.yTitle === "md") {
      const t = svg.append("text").attr("transform",`translate(71,${cy}) rotate(-90)`).attr("dy","0.35em").attr("text-anchor","middle")
        .style("font-size","15px").style("font-weight","bold");
      t.append("tspan").text("Baseline Normalized MD (mm");
      t.append("tspan").attr("dy","-6").style("font-size","10px").text("2");
      t.append("tspan").attr("dy","6").text("/s)");
    } else {
      svg.append("text").attr("transform",`translate(88,${cy}) rotate(-90)`).attr("dy","0.35em").attr("text-anchor","middle")
        .style("font-size","15px").style("font-weight","bold").text("Baseline Normalized FA");
    }
    const ya = svg.append("g");
    sec.ticks.forEach((tv, k) => {
      ya.append("line").attr("x1", LEFT0 - 4.5).attr("x2", LEFT0).attr("y1", y(tv)).attr("y2", y(tv)).attr("stroke","#333").attr("stroke-width",1.1);
      ya.append("text").attr("x", LEFT0 - 7).attr("y", y(tv)).attr("dy","0.35em").attr("text-anchor","end")
        .style("font-size","15px").style("font-weight","bold").attr("fill","#111").text(sec.tickLabels[k]);
    });
    for (let c = 0; c < 5; c++) {
      const ti = ri * 5 + c;
      const x0 = LEFT0 + c * (PW + GAP);
      const x = d3.scaleLinear().domain([33.35, 91.65]).range([x0, x0 + PW]);
      const g = svg.append("g");
      g.append("rect").attr("x", x0).attr("y", top).attr("width", PW).attr("height", bottom - top).attr("fill","#EBEBEB");
      const grid = g.append("g").attr("stroke","#fff");
      xMinor.forEach(v => grid.append("line").attr("x1", x(v)).attr("x2", x(v)).attr("y1", top).attr("y2", bottom).attr("stroke-width",0.8));
      sec.minor.forEach(v => grid.append("line").attr("y1", y(v)).attr("y2", y(v)).attr("x1", x0).attr("x2", x0 + PW).attr("stroke-width",0.8));
      xTicks.forEach(v => grid.append("line").attr("x1", x(v)).attr("x2", x(v)).attr("y1", top).attr("y2", bottom).attr("stroke-width",1.6));
      sec.ticks.forEach(v => grid.append("line").attr("y1", y(v)).attr("y2", y(v)).attr("x1", x0).attr("x2", x0 + PW).attr("stroke-width",1.6));
      const vals = sec.data[ti];
      const pts = d3.range(Math.min(vals.length, ages.length)).map(i => [ages[i], vals[i]]);
      g.append("g").selectAll("circle").data(pts).join("circle")
        .attr("cx", d => x(d[0])).attr("cy", d => y(d[1])).attr("r", 2.6).attr("fill","#000");
      const line = d3.line().x(d => x(d[0])).y(d => y(d[1])).curve(d3.curveMonotoneX);
      g.append("path").datum(curveAges.map((a, i) => [a, sec.curves[ti][i]]))
        .attr("d", line).attr("fill","none").attr("stroke", curveColors[ti]).attr("stroke-width",2);
      addAnno(g.append("g"), x0 + PW, top, bottom, sec.pos[ti], tracts[ti], sec.p[ti], sec.r2[ti]);
      if (ri === 1) {
        xTicks.forEach(v => {
          g.append("line").attr("x1", x(v)).attr("x2", x(v)).attr("y1", bottom).attr("y2", bottom + 4.5).attr("stroke","#333").attr("stroke-width",1.1);
          g.append("text").attr("x", x(v)).attr("y", bottom + 19).attr("text-anchor","middle")
            .style("font-size","15px").style("font-weight","bold").attr("fill","#111").text(v);
        });
        g.append("text").attr("x", x0 + PW / 2).attr("y", bottom + 37).attr("text-anchor","middle")
          .style("font-size","15px").style("font-weight","bold").text("Age (years)");
      }
    }
  });
});
</script></body></html>
